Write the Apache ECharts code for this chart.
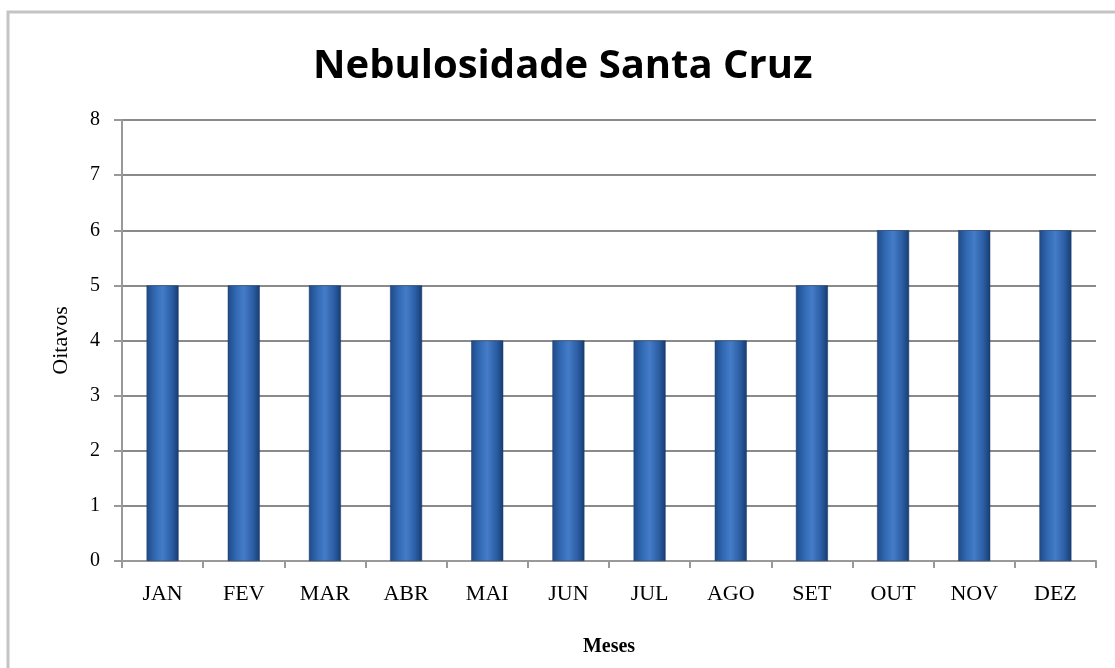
<!DOCTYPE html>
<html><head><meta charset="utf-8">
<script src="https://cdn.jsdelivr.net/npm/echarts@6/dist/echarts.min.js"></script>
<style>html,body{margin:0;padding:0;background:#fff}#c{width:1115px;height:668px}</style>
</head><body><div id="c"></div>
<script>
const categories = ['JAN','FEV','MAR','ABR','MAI','JUN','JUL','AGO','SET','OUT','NOV','DEZ'];
const values = [5,5,5,5,4,4,4,4,5,6,6,6];
const titleText = 'Nebulosidade Santa Cruz';
const yName = 'Oitavos';
const xName = 'Meses';

const chart = echarts.init(document.getElementById('c'));
const barColor = new echarts.graphic.LinearGradient(0,0,1,0,[
  {offset:0,color:'#1f4a86'},
  {offset:0.25,color:'#3068b2'},
  {offset:0.5,color:'#457cc8'},
  {offset:0.8,color:'#2a5ca2'},
  {offset:1,color:'#183c70'}
]);
chart.setOption({
  animation:false,
  backgroundColor:'#fff',
  graphic:[{type:'rect',shape:{x:8,y:12,width:1200,height:800},style:{fill:'none',stroke:'#c4c4c4',lineWidth:3},silent:true}],
  title:{text:titleText,left:308,top:42,textStyle:{fontFamily:'Open Sans',fontWeight:'bold',fontSize:40,color:'#000'}},
  grid:{left:122,right:19,top:120,bottom:107},
  xAxis:{type:'category',data:categories,name:xName,nameLocation:'middle',nameGap:76,
    nameTextStyle:{fontFamily:'Liberation Serif',fontWeight:'bold',fontSize:20,color:'#000'},
    axisLine:{lineStyle:{color:'#999',width:2}},
    axisTick:{show:true,length:7,lineStyle:{color:'#999',width:2}},
    axisLabel:{fontFamily:'Liberation Serif',fontSize:22,color:'#000',margin:22}},
  yAxis:{type:'value',min:0,max:8,interval:1,name:yName,nameLocation:'middle',nameGap:50,
    nameTextStyle:{fontFamily:'Liberation Serif',fontSize:22,color:'#000'},
    axisLine:{show:true,lineStyle:{color:'#999',width:2}},
    axisTick:{show:true,length:8,lineStyle:{color:'#999',width:2}},
    splitLine:{lineStyle:{color:'#8a8a8a',width:2}},
    axisLabel:{fontFamily:'Liberation Serif',fontSize:20,color:'#000',margin:22}},
  series:[{type:'bar',data:values,barWidth:32,itemStyle:{color:barColor,borderColor:'#1a3a6a',borderWidth:0.5}}]
});
</script></body></html>
